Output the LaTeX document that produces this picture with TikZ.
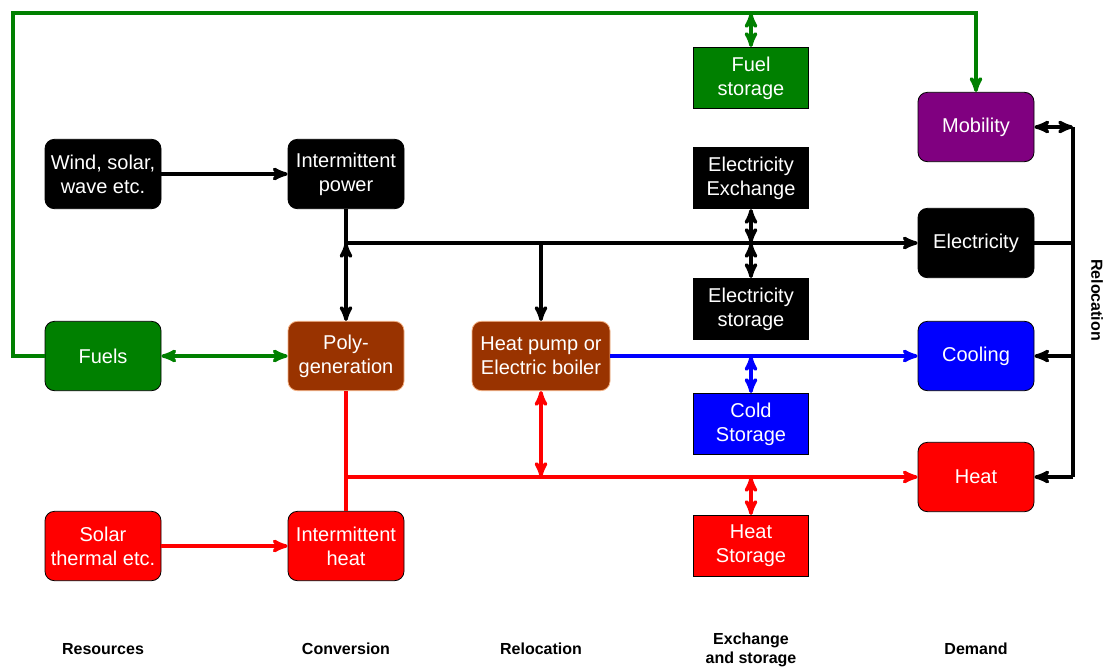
\documentclass[tikz,border=0pt]{standalone}
\usepackage{fontspec}
\setmainfont{Liberation Sans}
\usepackage{tikz}
\usetikzlibrary{arrows}
\usetikzlibrary{positioning}
\definecolor{fuelgreen}{RGB}{0,128,0}
\definecolor{polybrown}{RGB}{153,51,0}
\definecolor{polyedge}{RGB}{244,177,131}
\definecolor{mobpurple}{RGB}{128,0,128}
\tikzstyle{box}=[rectangle,rounded corners=7pt,draw=black,line width=0.6pt,text=white,align=center,minimum width=87pt,minimum height=52pt,inner sep=0pt,font=\fontsize{15}{18}\selectfont]
\tikzstyle{conv}=[box,fill=polybrown,draw=polyedge]
\tikzstyle{store}=[rectangle,draw=black,line width=0.6pt,text=white,align=center,minimum width=86pt,minimum height=46pt,inner sep=0pt,font=\fontsize{15}{18}\selectfont]
\tikzstyle{stage}=[align=center,font=\fontsize{12}{14}\selectfont\bfseries]
\tikzstyle{flow}=[line width=2.6pt,>=stealth',line cap=butt]
\tikzset{every picture/.style={
    line width=1
  }
}

\begin{document}
\begin{tikzpicture}[x=0.75pt,y=-0.75pt]
        \useasboundingbox (0,0) rectangle (1106,668);
        % resources
        \node[box,fill=black] at (103,174) (wind) {Wind, solar,\\wave etc.};
        \node[box,fill=fuelgreen] at (103,356) (fuels) {Fuels};
        \node[box,fill=red] at (103,546) (sth) {Solar\\thermal etc.};
        % conversion
        \node[box,fill=black] at (346,174) (ipow) {Intermittent\\power};
        \node[conv] at (346,356) (poly) {Poly-\\generation};
        \node[box,fill=red] at (346,546) (iheat) {Intermittent\\heat};
        % relocation
        \node[conv,minimum width=103.5pt] at (541,356) (hp) {Heat pump or\\Electric boiler};
        % exchange and storage
        \node[store,fill=fuelgreen] at (751,78) (fstore) {Fuel\\storage};
        \node[store,fill=black] at (751,178) (exch) {Electricity\\Exchange};
        \node[store,fill=black] at (751,309) (estore) {Electricity\\storage};
        \node[store,fill=blue] at (751,424) (cstore) {Cold\\Storage};
        \node[store,fill=red] at (751,546) (hstore) {Heat\\Storage};
        % demand
        \node[box,fill=mobpurple] at (976,127) (mob) {Mobility};
        \node[box,fill=black] at (976,243) (elec) {Electricity};
        \node[box,fill=blue] at (976,356) (cool) {Cooling};
        \node[box,fill=red] at (976,477) (heat) {Heat};
        % stage labels
        \node[stage] at (103,649) (lres) {Resources};
        \node[stage] at (346,649) (lconv) {Conversion};
        \node[stage] at (541,649) (lrel) {Relocation};
        \node[stage] at (751,650) (lex) {Exchange\\and storage};
        \node[stage] at (976,649) (ldem) {Demand};
        \node[stage,rotate=-90] at (1097,300) (lrel2) {Relocation};
        % corners
        \coordinate (loopL) at (13,13);
        \coordinate (busT) at (1073,127);
        \coordinate (busB) at (1073,477);
        % fuels
        \draw[flow,fuelgreen,->] (fuels.west) -| (loopL) -| (mob.north);
        \draw[flow,fuelgreen,<->] (fstore.north |- loopL) to (fstore.north);
        \draw[flow,fuelgreen,<->] (fuels.east) to (poly.west);
        % electricity
        \draw[flow,->] (wind.east) to (ipow.west);
        \draw[flow,->] (ipow.south) |- (elec.west);
        \draw[flow,<->] (ipow.south |- elec.west) to (poly.north);
        \draw[flow,->] (hp.north |- elec.west) to (hp.north);
        \draw[flow,<->] (exch.south) to (exch.south |- elec.west);
        \draw[flow,<->] (exch.south |- elec.west) to (estore.north);
        % cooling
        \draw[flow,blue,->] (hp.east) to (cool.west);
        \draw[flow,blue,<->] (cstore.north |- cool.west) to (cstore.north);
        % heat
        \draw[flow,->,red] (sth.east) to (iheat.west);
        \draw[flow,red] (poly.south) to (iheat.north);
        \draw[flow,red,->] (poly.south |- heat.west) to (heat.west);
        \draw[flow,red,<->] (hp.south) to (hp.south |- heat.west);
        \draw[flow,red,<->] (hstore.north |- heat.west) to (hstore.north);
        % relocation bus
        \draw[flow] (busT) to (busB);
        \draw[flow] (elec.east) to (elec.east -| busT);
        \draw[flow,<->] (mob.east) to (busT);
        \draw[flow,->] (busT |- cool.east) to (cool.east);
        \draw[flow,->] (busB) to (heat.east);
      \end{tikzpicture}
\end{document}
